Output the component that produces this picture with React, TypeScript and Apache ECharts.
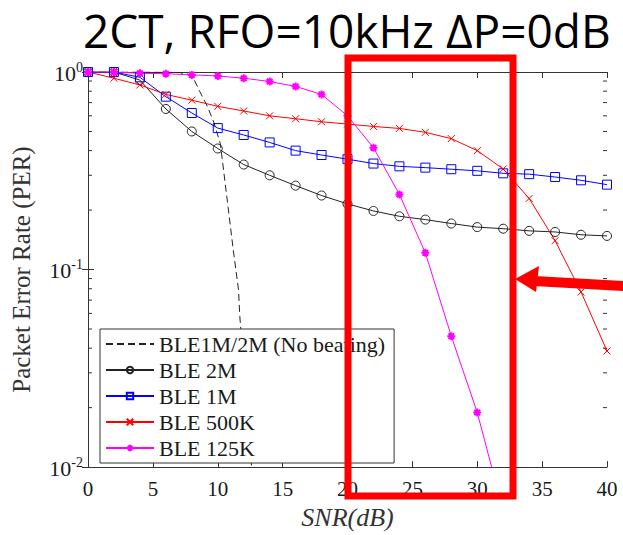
import React, { useEffect, useRef } from 'react';
import * as echarts from 'echarts';

// SNR (dB) sample points
const snr = [0, 2, 4, 6, 8, 10, 12, 14, 16, 18, 20, 22, 24, 26, 28, 30, 32, 34, 36, 38, 40];
const per2M = [1.0, 1.0, 0.91, 0.65, 0.5, 0.41, 0.34, 0.3, 0.266, 0.237, 0.215, 0.198, 0.186, 0.179, 0.171, 0.164, 0.161, 0.157, 0.155, 0.15, 0.148];
const per1M = [1.0, 1.0, 0.94, 0.75, 0.62, 0.52, 0.48, 0.44, 0.4, 0.38, 0.362, 0.344, 0.333, 0.328, 0.322, 0.316, 0.307, 0.304, 0.294, 0.283, 0.269];
const per500K = [1.0, 0.93, 0.86, 0.77, 0.72, 0.67, 0.635, 0.6, 0.58, 0.56, 0.545, 0.53, 0.518, 0.495, 0.46, 0.4, 0.323, 0.229, 0.14, 0.077, 0.0387];
const snr125K = [0, 2, 4, 6, 8, 10, 12, 14, 16, 18, 20, 22, 24, 26, 28, 30, 32];
const per125K = [1.0, 1.0, 0.985, 0.98, 0.967, 0.955, 0.93, 0.895, 0.845, 0.77, 0.6, 0.414, 0.24, 0.1215, 0.046, 0.0189, 0.006];
// theoretical curve without beating
const snrNoBeat = [0, 4, 7, 8, 8.6, 9.2, 9.7, 10.2, 10.8, 11.2, 11.6, 11.7, 12.6, 13.0];
const perNoBeat = [1.0, 1.0, 0.995, 0.966, 0.8, 0.67, 0.556, 0.434, 0.206, 0.125, 0.079, 0.058, 0.0102, 0.005];

const xTicks = { min: 0, max: 40, interval: 5 };
const yRange = { min: 0.01, max: 1 };
const minorTickValues = [0.02, 0.03, 0.04, 0.05, 0.06, 0.07, 0.08, 0.09, 0.2, 0.3, 0.4, 0.5, 0.6, 0.7, 0.8, 0.9];

const titleText = '2CT, RFO=10kHz \u0394P=0dB';
const legendNames = ['BLE1M/2M (No beating)', 'BLE 2M', 'BLE 1M', 'BLE 500K', 'BLE 125K'];

const SERIF = 'Liberation Serif, DejaVu Serif, serif';
const AX = '#333';
const TXT = '#1a1a1a';

function pairs(xs: number[], ys: number[]) {
  return ys.map((y, i) => [xs[i], y]);
}

export default function App() {
  const ref = useRef<HTMLDivElement>(null);
  useEffect(() => {
    const chart = echarts.init(ref.current!, null, { renderer: 'svg' });
    const hollow = (color: string) => ({ color: 'transparent', borderColor: color, borderWidth: 1 });
    const option: any = {
      animation: false,
      backgroundColor: '#fff',
      textStyle: { fontFamily: SERIF, color: TXT },
      title: {
        text: titleText,
        left: 78,
        top: 2,
        textStyle: { fontFamily: 'Open Sans', fontSize: 46, fontWeight: 'normal', color: '#000' },
      },
      grid: { left: 88, right: 16, top: 72, bottom: 60 },
      legend: {
        data: legendNames,
        orient: 'vertical',
        left: 100,
        top: 329,
        padding: [4, 9, 4, 5],
        itemWidth: 48,
        itemHeight: 8,
        itemGap: 4,
        backgroundColor: '#fff',
        borderColor: AX,
        borderWidth: 1,
        borderRadius: 0,
        selectedMode: false,
        textStyle: { fontFamily: SERIF, fontSize: 22, color: TXT, lineHeight: 22 },
      },
      xAxis: [
        {
          type: 'value', ...xTicks, position: 'bottom',
          name: 'SNR(dB)', nameLocation: 'middle', nameGap: 31,
          nameTextStyle: { fontFamily: SERIF, fontStyle: 'italic', fontSize: 26, color: '#333' },
          axisLine: { show: true, lineStyle: { color: AX, width: 1 } },
          axisTick: { show: true, inside: true, length: 6, lineStyle: { color: AX } },
          axisLabel: { margin: 11, fontFamily: SERIF, fontSize: 21, color: TXT },
          splitLine: { show: false },
        },
        {
          type: 'value', ...xTicks, position: 'top',
          axisLine: { show: true, onZero: false, lineStyle: { color: AX, width: 1 } },
          axisTick: { show: true, inside: true, length: 6, lineStyle: { color: AX } },
          axisLabel: { show: false },
          splitLine: { show: false },
        },
      ],
      yAxis: [
        {
          type: 'log', logBase: 10, ...yRange, position: 'left',
          name: 'Packet Error Rate (PER)', nameLocation: 'middle', nameGap: 54, nameRotate: 90,
          nameTextStyle: { fontFamily: SERIF, fontSize: 25, color: '#333' },
          axisLine: { show: true, lineStyle: { color: AX, width: 1 } },
          axisTick: { show: true, inside: true, length: 6, lineStyle: { color: AX } },
          axisLabel: {
            margin: 5,
            formatter: (v: number) => '{b|10}{s|' + Math.round(Math.log10(v)) + '}',
            rich: {
              b: { fontFamily: SERIF, fontSize: 22, color: TXT, lineHeight: 24, verticalAlign: 'bottom' },
              s: { fontFamily: SERIF, fontSize: 14, color: TXT, lineHeight: 24, verticalAlign: 'top' },
            },
          },
          splitLine: { show: false },
        },
        {
          type: 'log', logBase: 10, ...yRange, position: 'right',
          axisLine: { show: true, lineStyle: { color: AX, width: 1 } },
          axisTick: { show: true, inside: true, length: 6, lineStyle: { color: AX } },
          axisLabel: { show: false },
          splitLine: { show: false },
        },
      ],
      series: [
        {
          type: 'custom',
          name: 'minorTicks',
          silent: true,
          data: minorTickValues.map((v) => [0, v]),
          renderItem: (params: any, api: any) => {
            const v = api.value(1);
            const l = api.coord([xTicks.min, v]);
            const r = api.coord([xTicks.max, v]);
            return {
              type: 'group',
              children: [
                { type: 'line', shape: { x1: l[0], y1: l[1], x2: l[0] + 4, y2: l[1] }, style: { stroke: AX, lineWidth: 1 } },
                { type: 'line', shape: { x1: r[0] - 4, y1: r[1], x2: r[0], y2: r[1] }, style: { stroke: AX, lineWidth: 1 } },
              ],
            };
          },
        },
        {
          type: 'line', name: legendNames[0],
          data: pairs(snrNoBeat, perNoBeat),
          symbol: 'none',
          lineStyle: { color: '#222', width: 1, type: [7, 4] },
          itemStyle: { color: 'transparent', borderColor: 'transparent' },
        },
        {
          type: 'line', name: legendNames[1],
          data: pairs(snr, per2M),
          symbol: 'circle', symbolSize: 9,
          lineStyle: { color: '#222', width: 1 },
          itemStyle: hollow('#222'),
        },
        {
          type: 'line', name: legendNames[2],
          data: pairs(snr, per1M),
          symbol: 'rect', symbolSize: 9,
          lineStyle: { color: '#0000ff', width: 1 },
          itemStyle: hollow('#0000ff'),
        },
        {
          type: 'line', name: legendNames[3],
          data: pairs(snr, per500K),
          symbol: 'path://M0,0L10,10M10,0L0,10', symbolSize: 7,
          lineStyle: { color: '#ff0000', width: 1 },
          itemStyle: hollow('#ff0000'),
        },
        {
          type: 'line', name: legendNames[4],
          data: pairs(snr125K, per125K),
          symbol: 'path://M5,0L5,10M0,5L10,5M1.5,1.5L8.5,8.5M8.5,1.5L1.5,8.5', symbolSize: 8,
          lineStyle: { color: '#ff00ff', width: 1 },
          itemStyle: { color: 'transparent', borderColor: '#ff00ff', borderWidth: 2 },
        },
      ],
      graphic: [
        {
          type: 'rect', z: 100,
          shape: { x: 348, y: 58, width: 165, height: 438 },
          style: { fill: 'none', stroke: '#ff0000', lineWidth: 7 },
        },
        {
          type: 'line', z: 100,
          shape: { x1: 534, y1: 281, x2: 625, y2: 286 },
          style: { stroke: '#ff0000', lineWidth: 10 },
        },
        {
          type: 'polygon', z: 100,
          shape: { points: [[515, 279], [539, 266], [536, 292]] },
          style: { fill: '#ff0000' },
        },
      ],
    };
    chart.setOption(option);
    return () => chart.dispose();
  }, []);
  return <div ref={ref} style={{ position: 'fixed', left: 0, top: 0, width: 623, height: 535, background: '#fff' }} />;
}
